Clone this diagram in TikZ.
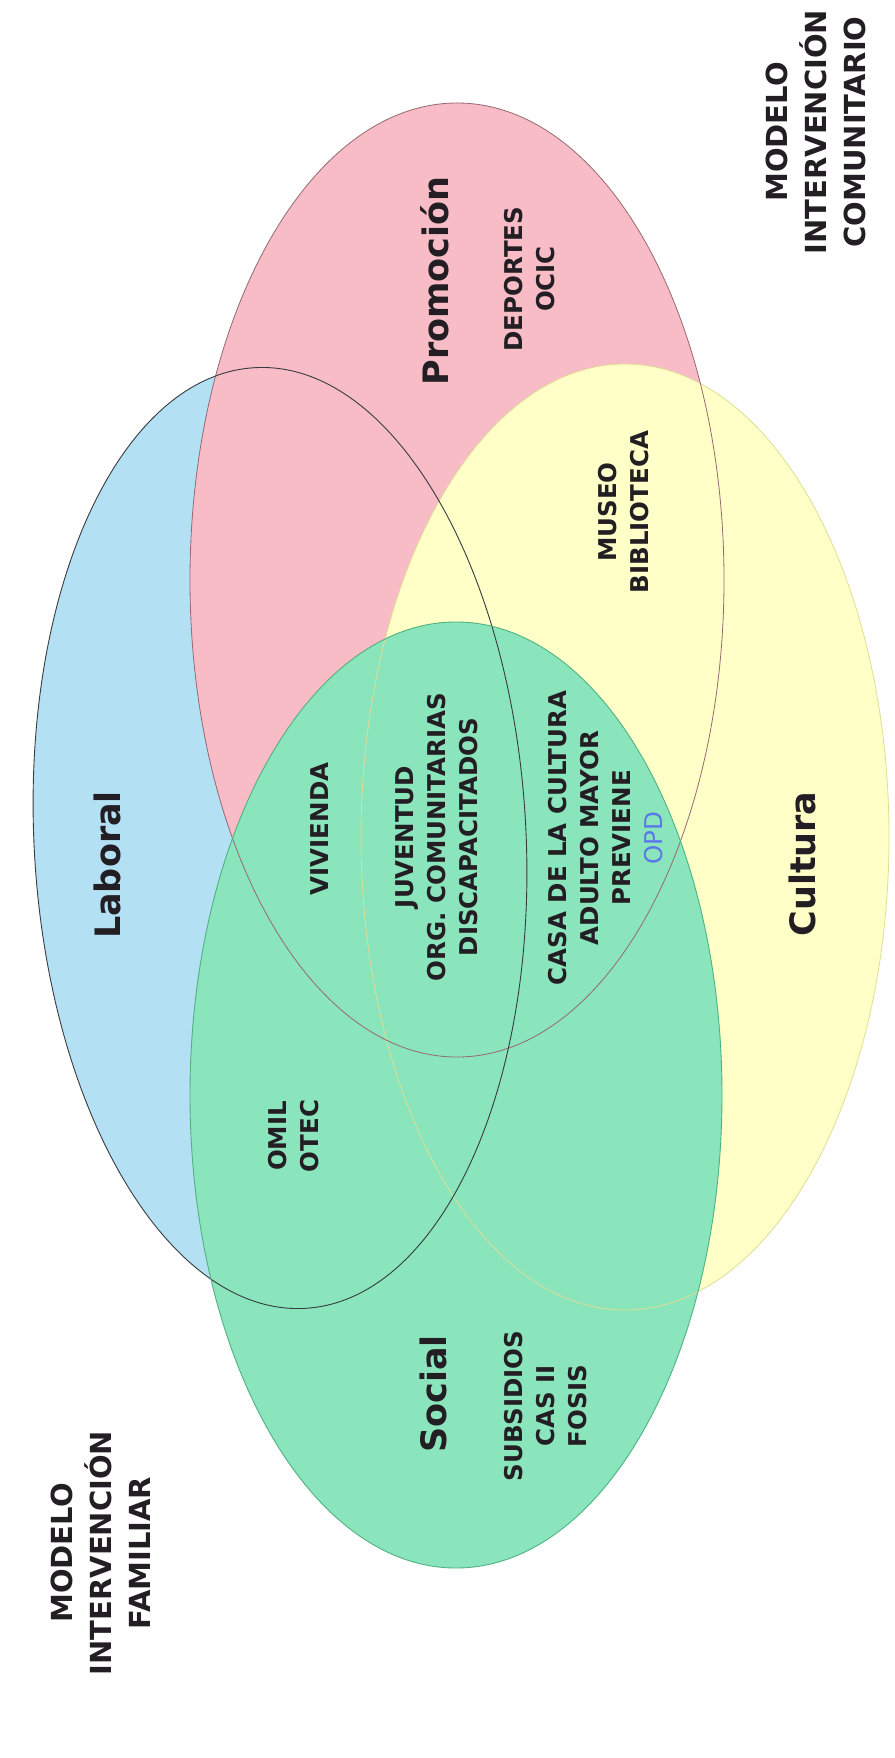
\documentclass[tikz,border=0pt]{standalone}
\usepackage{fontspec}
\setmainfont{DejaVu Sans}
\definecolor{bluef}{RGB}{180,224,244}
\definecolor{pinkf}{RGB}{247,188,198}
\definecolor{yellowf}{RGB}{255,255,200}
\definecolor{greenf}{RGB}{138,228,188}
\definecolor{blueo}{RGB}{55,60,65}
\definecolor{pinko}{RGB}{150,105,112}
\definecolor{yellowo}{RGB}{222,222,150}
\definecolor{greeno}{RGB}{80,178,128}
\definecolor{txt}{RGB}{35,30,35}
\definecolor{opdblue}{RGB}{90,120,232}
\begin{document}
\begin{tikzpicture}[x=1pt,y=-1pt,
  title/.style={rotate=90, font=\fontsize{35}{40}\selectfont\bfseries, text=txt, inner sep=0pt},
  item/.style={rotate=90, align=center, font=\fontsize{24.5}{32}\selectfont\bfseries, text=txt, inner sep=0pt},
  model/.style={rotate=90, align=center, font=\fontsize{29}{39}\selectfont\bfseries, text=txt, inner sep=0pt},
  bluetilt/.style={rotate around={3:(280,838)}}]
\useasboundingbox (0,0) rectangle (894,1758);
% fills
\fill[bluef, bluetilt] (280,838) ellipse [x radius=246, y radius=471];
\fill[pinkf]   (457,580) ellipse [x radius=267, y radius=477];
\fill[yellowf] (625,837) ellipse [x radius=264, y radius=473];
\fill[greenf]  (456,1095) ellipse [x radius=266, y radius=473];
% outlines
\draw[yellowo, line width=0.8pt] (625,837) ellipse [x radius=264, y radius=473];
\draw[pinko, line width=0.8pt] (457,580) ellipse [x radius=267, y radius=477];
\draw[blueo, line width=0.9pt, bluetilt] (280,838) ellipse [x radius=246, y radius=471];
\draw[greeno, line width=0.9pt] (456,1095) ellipse [x radius=266, y radius=473];
% titles
\node[title] (promocion) at (435,281) {Promoción};
\node[title] (laboral) at (107,865) {Laboral};
\node[title] (cultura) at (802,864) {Cultura};
\node[title] (social) at (433,1394) {Social};
% items
\node[item] (deportes) at (530,279) {DEPORTES\\OCIC};
\node[item] (museo) at (624,512) {MUSEO\\BIBLIOTECA};
\node[item] (vivienda) at (320,829) {VIVIENDA};
\node[item] (juventud) at (437,837) {JUVENTUD\\ORG. COMUNITARIAS\\DISCAPACITADOS};
\node[item] (casa) at (606,838) {CASA DE LA CULTURA\\ADULTO MAYOR\\PREVIENE\\\textcolor{opdblue}{\mdseries OPD}};
\node[item] (omil) at (294,1136) {OMIL\\OTEC};
\node[item] (subsidios) at (546,1406) {SUBSIDIOS\\CAS II\\FOSIS};
% model labels
\node[model] (comunitario) at (816,132) {MODELO\\INTERVENCIÓN\\COMUNITARIO};
\node[model] (familiar) at (101,1553) {MODELO\\INTERVENCIÓN\\FAMILIAR};
\end{tikzpicture}
\end{document}
